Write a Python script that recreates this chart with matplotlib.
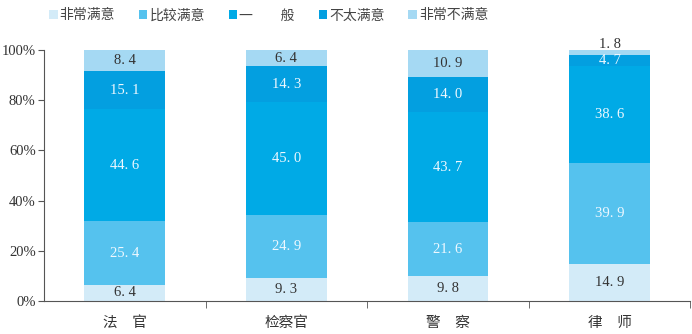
import matplotlib.pyplot as plt
import numpy as np

plt.rcParams['font.family'] = ['Liberation Serif', 'Noto Sans CJK SC']

categories = ['法　官', '检察官', '警　察', '律　师']
series_names = ['非常满意', '比较满意', '一　　般', '不太满意', '非常不满意']
very_satisfied = [6.4, 9.3, 9.8, 14.9]
fairly_satisfied = [25.4, 24.9, 21.6, 39.9]
neutral = [44.6, 45.0, 43.7, 38.6]
not_very_satisfied = [15.1, 14.3, 14.0, 4.7]
very_unsatisfied = [8.4, 6.4, 10.9, 1.8]

series = [very_satisfied, fairly_satisfied, neutral, not_very_satisfied, very_unsatisfied]
colors = ['#d3ebf8', '#55c2ee', '#00aae6', '#039fe0', '#a5d9f3']
text_colors = ['#333333', '#eef8ff', '#eef8ff', '#eef8ff', '#333333']

fig = plt.figure(figsize=(6.92, 3.34), dpi=100)
ax = fig.add_axes([0.0636, 0.0988, 0.934, 0.752])

x = np.arange(len(categories))
bottom = np.zeros(len(categories))
for vals, col, tcol, name in zip(series, colors, text_colors, series_names):
    vals = np.array(vals)
    ax.bar(x, vals, 0.5, bottom=bottom, color=col, label=name)
    for i, v in enumerate(vals):
        y = bottom[i] + v / 2
        if v < 3:
            y = bottom[i] + v + 2.2
        ax.text(x[i], y, f'{v:.1f}'.replace('.', '. '), ha='center', va='center',
                fontsize=10.5, color=tcol)
    bottom += vals

ax.set_xlim(-0.5, 3.5)
ax.set_ylim(0, 100)
ax.set_yticks(np.arange(0, 101, 20))
ax.set_yticklabels([f'{v}%' for v in range(0, 101, 20)], fontsize=10.5, color='#333333')
ax.set_xticks(x)
ax.set_xticklabels(categories, fontsize=10.5, color='#333333', family=['Noto Sans CJK SC'])
ax.set_xticks([0.5, 1.5, 2.5, 3.5], minor=True)
ax.tick_params(axis='x', which='major', length=0, pad=11)
ax.tick_params(axis='x', which='minor', length=5, color='#555555')
ax.tick_params(axis='y', length=4, color='#555555', pad=2)
for s in ['top', 'right']:
    ax.spines[s].set_visible(False)
for s in ['left', 'bottom']:
    ax.spines[s].set_color('#555555')

leg = fig.legend(loc='upper left', bbox_to_anchor=(0.053, 1.012), ncol=5, frameon=False,
                 handlelength=0.6, handleheight=0.6, handletextpad=0.15, columnspacing=1.72,
                 prop={'family': 'Noto Sans CJK SC', 'size': 10})
for t in leg.get_texts():
    t.set_color('#444444')

fig.savefig('out.png', dpi=100)
